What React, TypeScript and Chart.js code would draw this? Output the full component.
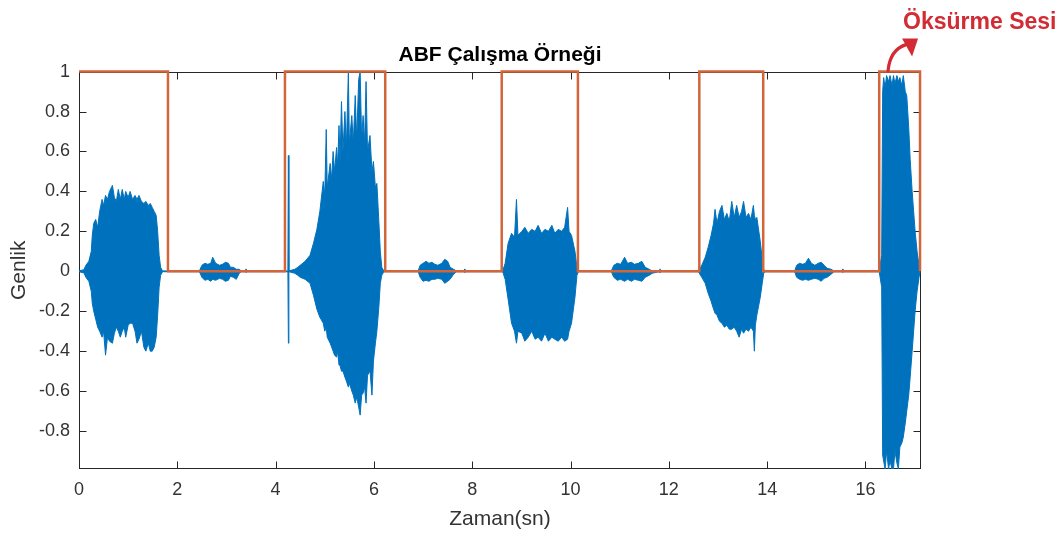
import React, { useEffect, useRef } from "react";
import { Chart, registerables } from "chart.js";

Chart.register(...registerables);

// Sound recording: sample instants (s) with the upper and lower amplitude envelope of the waveform
const sigTime = [
  0.0, 0.1, 0.14, 0.2, 0.25, 0.27, 0.3, 0.34, 0.38, 0.42, 0.47, 0.5, 0.54, 0.58, 0.62, 0.68, 0.72, 0.76, 0.8, 0.84,
  0.88, 0.92, 0.95, 1.0, 1.04, 1.09, 1.14, 1.18, 1.22, 1.27, 1.32, 1.36, 1.41, 1.45, 1.49, 1.53, 1.57, 1.6, 1.63, 1.66, 1.7,
  2.45, 2.5, 2.56, 2.62, 2.68, 2.72, 2.78, 2.86, 2.92, 2.98, 3.04, 3.08, 3.14, 3.2, 3.26, 3.3, 3.38, 3.4, 3.42,
  4.25, 4.26, 4.27,
  4.39, 4.45, 4.5, 4.6, 4.7, 4.77, 4.84, 4.9, 4.97, 5.0, 5.03, 5.05, 5.11, 5.14, 5.17, 5.2, 5.24, 5.26, 5.29, 5.31,
  5.34, 5.37, 5.41, 5.44, 5.48, 5.5, 5.55, 5.58, 5.62, 5.65, 5.69, 5.72, 5.75, 5.78, 5.81, 5.84, 5.87, 5.92, 5.96, 5.99,
  6.03, 6.06, 6.1, 6.13, 6.16, 6.2,
  6.9, 6.94, 7.0, 7.06, 7.12, 7.18, 7.24, 7.3, 7.38, 7.44, 7.5, 7.55, 7.62, 7.68, 7.83, 7.85, 7.87,
  8.62, 8.67, 8.73, 8.8, 8.86, 8.9, 8.93, 9.01, 9.07, 9.14, 9.21, 9.28, 9.34, 9.41, 9.48, 9.55, 9.62, 9.68, 9.75, 9.82,
  9.88, 9.94, 9.97, 10.02, 10.09, 10.13, 10.16,
  10.83, 10.88, 10.95, 11.02, 11.1, 11.16, 11.24, 11.3, 11.38, 11.45, 11.52, 11.6, 11.66, 11.8, 11.82, 11.84,
  12.6, 12.67, 12.74, 12.8, 12.86, 12.91, 12.94, 12.98, 13.03, 13.08, 13.13, 13.18, 13.23, 13.28, 13.33, 13.38, 13.43,
  13.48, 13.52, 13.57, 13.62, 13.67, 13.72, 13.74, 13.76, 13.79, 13.86, 13.9, 13.93, 13.96,
  14.56, 14.6, 14.66, 14.72, 14.78, 14.84, 14.9, 14.97, 15.04, 15.1, 15.16, 15.22, 15.3, 15.36, 15.52, 15.54, 15.56,
  16.28, 16.33, 16.35, 16.37, 16.4, 16.43, 16.47, 16.5, 16.54, 16.57, 16.6, 16.64, 16.67, 16.7, 16.74, 16.77, 16.81,
  16.84, 16.88, 16.91, 16.95, 16.98, 17.01, 17.05, 17.09, 17.11,
];

const sigUpper = [
  0.002, 0.008, 0.03, 0.05, 0.1, 0.18, 0.24, 0.26, 0.22, 0.3, 0.36, 0.33, 0.38, 0.36, 0.4, 0.43, 0.37, 0.35, 0.41, 0.36,
  0.41, 0.36, 0.4, 0.37, 0.4, 0.36, 0.38, 0.36, 0.38, 0.35, 0.34, 0.35, 0.33, 0.34, 0.32, 0.3, 0.28, 0.2, 0.08, 0.02, 0.002,
  0.002, 0.03, 0.04, 0.035, 0.04, 0.07, 0.04, 0.03, 0.035, 0.045, 0.04, 0.02, 0.02, 0.01, 0.01, 0.002, 0.002, 0.012, 0.002,
  0.002, 0.58, 0.002,
  0.01, 0.02, 0.03, 0.05, 0.08, 0.14, 0.21, 0.3, 0.45, 0.38, 0.71, 0.42, 0.54, 0.46, 0.6, 0.5, 0.62, 0.52, 0.73, 0.55,
  0.85, 0.6, 0.8, 0.62, 1.0, 0.64, 0.78, 0.64, 0.88, 0.66, 0.96, 1.0, 0.66, 0.78, 0.64, 0.95, 0.6, 0.68, 0.5, 0.55,
  0.42, 0.44, 0.25, 0.1, 0.02, 0.002,
  0.002, 0.03, 0.04, 0.05, 0.04, 0.045, 0.035, 0.03, 0.04, 0.06, 0.05, 0.02, 0.01, 0.002, 0.002, 0.012, 0.002,
  0.002, 0.04, 0.14, 0.19, 0.17, 0.36, 0.18, 0.2, 0.22, 0.19, 0.21, 0.2, 0.23, 0.19, 0.21, 0.2, 0.23, 0.19, 0.21, 0.2,
  0.22, 0.32, 0.2, 0.18, 0.1, 0.02, 0.002,
  0.002, 0.03, 0.04, 0.035, 0.07, 0.04, 0.045, 0.035, 0.04, 0.05, 0.02, 0.01, 0.002, 0.002, 0.012, 0.002,
  0.002, 0.03, 0.07, 0.12, 0.18, 0.24, 0.31, 0.24, 0.3, 0.33, 0.26, 0.29, 0.25, 0.35, 0.27, 0.33, 0.27,
  0.3, 0.35, 0.27, 0.29, 0.26, 0.33, 0.28, 0.26, 0.27, 0.15, 0.06, 0.01, 0.002,
  0.002, 0.03, 0.04, 0.035, 0.04, 0.065, 0.04, 0.03, 0.04, 0.045, 0.03, 0.015, 0.01, 0.002, 0.002, 0.012, 0.002,
  0.002, 0.08, 0.9, 0.97, 0.92, 0.98, 0.95, 0.98, 0.93, 0.98, 0.94, 0.98, 0.95, 0.97, 0.93, 0.98, 0.9,
  0.88, 0.72, 0.56, 0.4, 0.3, 0.2, 0.1, 0.03, 0.002,
];

const sigLower = [
  -0.002, -0.008, -0.03, -0.05, -0.1, -0.16, -0.2, -0.24, -0.28, -0.3, -0.33, -0.3, -0.42, -0.33, -0.35, -0.36, -0.31, -0.28, -0.3, -0.33,
  -0.3, -0.28, -0.33, -0.27, -0.26, -0.26, -0.3, -0.36, -0.34, -0.3, -0.38, -0.4, -0.36, -0.4, -0.4, -0.38, -0.33, -0.22, -0.08, -0.02, -0.002,
  -0.002, -0.03, -0.045, -0.04, -0.05, -0.04, -0.045, -0.035, -0.04, -0.05, -0.045, -0.025, -0.03, -0.04, -0.01, -0.002, -0.002, -0.006, -0.002,
  -0.002, -0.36, -0.002,
  -0.01, -0.02, -0.03, -0.04, -0.06, -0.12, -0.19, -0.23, -0.26, -0.3, -0.28, -0.33, -0.36, -0.38, -0.4, -0.42, -0.43, -0.4, -0.47, -0.47,
  -0.5, -0.5, -0.53, -0.55, -0.58, -0.56, -0.6, -0.62, -0.66, -0.63, -0.68, -0.72, -0.62, -0.61, -0.58, -0.66, -0.52, -0.5, -0.62, -0.45,
  -0.36, -0.3, -0.18, -0.06, -0.02, -0.002,
  -0.002, -0.03, -0.05, -0.045, -0.05, -0.04, -0.04, -0.035, -0.04, -0.06, -0.05, -0.04, -0.015, -0.002, -0.002, -0.006, -0.002,
  -0.002, -0.04, -0.14, -0.26, -0.3, -0.36, -0.3, -0.31, -0.35, -0.33, -0.3, -0.34, -0.33, -0.35, -0.31, -0.35, -0.33, -0.34, -0.35, -0.33,
  -0.35, -0.34, -0.3, -0.26, -0.13, -0.02, -0.002,
  -0.002, -0.03, -0.045, -0.04, -0.05, -0.04, -0.05, -0.04, -0.045, -0.05, -0.03, -0.02, -0.01, -0.002, -0.006, -0.002,
  -0.002, -0.03, -0.06, -0.11, -0.15, -0.19, -0.21, -0.22, -0.25, -0.26, -0.28, -0.27, -0.29, -0.29, -0.28, -0.3, -0.33,
  -0.29, -0.31, -0.29, -0.3, -0.28, -0.3, -0.4, -0.27, -0.22, -0.13, -0.06, -0.01, -0.002,
  -0.002, -0.03, -0.04, -0.045, -0.04, -0.045, -0.04, -0.035, -0.04, -0.05, -0.035, -0.03, -0.015, -0.002, -0.002, -0.006, -0.002,
  -0.002, -0.08, -0.92, -0.95, -0.99, -0.9, -0.99, -0.95, -0.99, -0.99, -0.9, -0.96, -0.99, -0.88, -0.86, -0.83, -0.76,
  -0.7, -0.62, -0.53, -0.4, -0.3, -0.2, -0.1, -0.03, -0.002,
];

// ABF detector output: switching instants (s) and the level reached at each instant
const abfSwitchTime = [0, 1.81, 4.19, 6.23, 8.6, 10.15, 12.62, 13.92, 16.28, 17.11];
const abfLevel = [1, 0, 1, 0, 1, 0, 1, 0, 1, 0];

// Axis ticks
const xTickValues = [0, 2, 4, 6, 8, 10, 12, 14, 16];
const yTickValues = [-0.8, -0.6, -0.4, -0.2, 0, 0.2, 0.4, 0.6, 0.8, 1];

const chartTitle = "ABF Çalışma Örneği";
const xAxisTitle = "Zaman(sn)";
const yAxisTitle = "Genlik";
const calloutText = "Öksürme Sesi";
const calloutTime = 16.46;

const FONT = "'Liberation Sans', Arial, Helvetica, sans-serif";
const BLUE = "#0072BD";
const ORANGE = "#D2653A";
const RED = "#D22B33";
const AXIS = "#262626";

// MATLAB-style box with inward tick marks on all four sides
const boxPlugin = {
  id: "matlabBox",
  beforeDatasetsDraw(chart: any) {
    const { ctx, chartArea: a, scales } = chart;
    const xs = scales.x;
    const ys = scales.y;
    const L = Math.round(a.left) + 0.5;
    const R = Math.round(a.right) - 0.5;
    const T = Math.round(a.top) + 0.5;
    const B = Math.round(a.bottom) - 0.5;
    const len = 7;
    ctx.save();
    ctx.strokeStyle = AXIS;
    ctx.lineWidth = 1;
    ctx.strokeRect(L, T, R - L, B - T);
    ctx.beginPath();
    for (const v of xTickValues) {
      const px = Math.round(xs.getPixelForValue(v)) + 0.5;
      ctx.moveTo(px, B);
      ctx.lineTo(px, B - len);
      ctx.moveTo(px, T);
      ctx.lineTo(px, T + len);
    }
    for (const v of yTickValues) {
      const py = Math.round(ys.getPixelForValue(v)) + 0.5;
      ctx.moveTo(L, py);
      ctx.lineTo(L + len, py);
      ctx.moveTo(R, py);
      ctx.lineTo(R - len, py);
    }
    ctx.stroke();
    ctx.restore();
  },
};

// Red callout with a curved arrow pointing at the cough segment
const calloutPlugin = {
  id: "coughCallout",
  afterDraw(chart: any) {
    const { ctx, scales } = chart;
    const x0 = scales.x.getPixelForValue(calloutTime);
    const y0 = scales.y.getPixelForValue(1);
    ctx.save();
    ctx.strokeStyle = RED;
    ctx.fillStyle = RED;
    ctx.lineWidth = 3.2;
    ctx.lineCap = "round";
    ctx.beginPath();
    ctx.moveTo(x0, y0 - 1);
    ctx.quadraticCurveTo(x0 + 2, y0 - 22, x0 + 18, y0 - 27);
    ctx.stroke();
    ctx.beginPath();
    ctx.moveTo(x0 + 30, y0 - 33);
    ctx.lineTo(x0 + 14, y0 - 33);
    ctx.lineTo(x0 + 24, y0 - 15);
    ctx.closePath();
    ctx.fill();
    ctx.font = `bold 23px ${FONT}`;
    ctx.textBaseline = "middle";
    ctx.textAlign = "left";
    ctx.fillText(calloutText, x0 + 15, y0 - 49);
    ctx.restore();
  },
};

export default function App() {
  const canvasRef = useRef<HTMLCanvasElement | null>(null);

  useEffect(() => {
    const canvas = canvasRef.current;
    if (!canvas) return;

    const upper = sigTime.map((t, i) => ({ x: t, y: sigUpper[i] }));
    const lower = sigTime.map((t, i) => ({ x: t, y: sigLower[i] }));
    const abf = abfSwitchTime.map((t, i) => ({ x: t, y: abfLevel[i] }));

    const chart = new Chart(canvas, {
      type: "line",
      data: {
        datasets: [
          {
            label: "ABF",
            data: abf,
            stepped: "before",
            borderColor: ORANGE,
            borderWidth: 2.5,
            pointRadius: 0,
            fill: false,
            clip: false,
          },
          {
            label: "Ses",
            data: upper,
            borderColor: BLUE,
            backgroundColor: BLUE,
            borderWidth: 1,
            pointRadius: 0,
            tension: 0,
            fill: "+1",
          },
          {
            label: "Ses alt",
            data: lower,
            borderColor: BLUE,
            borderWidth: 1,
            pointRadius: 0,
            tension: 0,
            fill: false,
          },
        ],
      },
      options: {
        responsive: false,
        animation: false,
        devicePixelRatio: 1,
        layout: { padding: { top: 43, right: 140, bottom: 0, left: 0 } },
        plugins: {
          legend: { display: false },
          tooltip: { enabled: false },
          title: {
            display: true,
            text: chartTitle,
            fullSize: false,
            color: "#000",
            font: { family: FONT, size: 21, weight: "bold", lineHeight: 1.2 },
            padding: { top: 0, bottom: 3.4 },
          },
        },
        scales: {
          x: {
            type: "linear",
            min: 0,
            max: 17.13,
            grid: { display: false, drawTicks: false },
            border: { display: false },
            afterBuildTicks: (scale: any) => {
              scale.ticks = xTickValues.map((v) => ({ value: v }));
            },
            afterFit: (scale: any) => {
              scale.height = 66;
            },
            ticks: {
              color: "#333",
              font: { family: FONT, size: 18 },
              padding: 10,
              maxRotation: 0,
              callback: (v: any) => String(v),
            },
            title: {
              display: true,
              text: xAxisTitle,
              color: "#333",
              font: { family: FONT, size: 21, lineHeight: 1.2 },
              padding: { top: 0, bottom: 3.4 },
            },
          },
          y: {
            type: "linear",
            min: -0.99,
            max: 1,
            grid: { display: false, drawTicks: false },
            border: { display: false },
            afterBuildTicks: (scale: any) => {
              scale.ticks = yTickValues.map((v) => ({ value: v }));
            },
            afterFit: (scale: any) => {
              scale.width = 79;
            },
            ticks: {
              color: "#333",
              font: { family: FONT, size: 18 },
              padding: 9,
              callback: (v: any) => String(Number(Number(v).toFixed(2))),
            },
            title: {
              display: true,
              text: yAxisTitle,
              color: "#333",
              font: { family: FONT, size: 21, lineHeight: 1.2 },
              padding: { top: 7, bottom: 0 },
            },
          },
        },
      },
      plugins: [boxPlugin, calloutPlugin],
    } as any);

    return () => chart.destroy();
  }, []);

  return (
    <div style={{ position: "fixed", left: 0, top: 0, width: 1061, height: 535, background: "#fff" }}>
      <canvas ref={canvasRef} width={1061} height={535} style={{ display: "block" }} />
    </div>
  );
}
